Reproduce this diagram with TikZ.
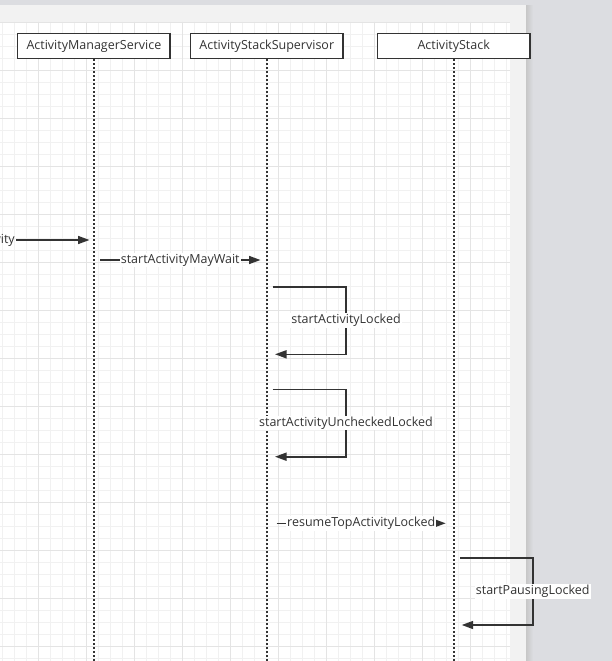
\documentclass[tikz,border=0pt]{standalone}
\usepackage{fontspec}
\setmainfont{Open Sans}
\usetikzlibrary{arrows.meta}
\definecolor{ink}{HTML}{333333}
\definecolor{deskgrey}{HTML}{DCDDE1}
\definecolor{pagegrey}{HTML}{F2F2F2}
\definecolor{gridminor}{HTML}{F1F1F1}
\definecolor{gridmajor}{HTML}{E4E4E4}
\tikzset{
  lifebox/.style={draw=ink, line width=1.5pt, fill=white, minimum width=152.6pt,
    minimum height=25pt, inner sep=0pt, text=ink, font=\fontsize{12.5}{14}\selectfont},
  lifeline/.style={draw=ink, line width=2pt, dash pattern=on 2pt off 2pt},
  msg/.style={draw=ink, line width=1.6pt, -{Triangle[length=11.5pt,width=8pt]}},
  lbl/.style={fill=white, inner sep=1pt, text=ink, font=\fontsize{12.5}{14}\selectfont},
  minorline/.style={draw=gridminor, line width=1pt},
  majorline/.style={draw=gridmajor, line width=1pt}
}
\begin{document}
\begin{tikzpicture}[x=1pt,y=-1pt]
\useasboundingbox (0,0) rectangle (612,661);
% desk background
\fill[deskgrey] (0,0) rectangle (612,661);
% page shadow
\shade[left color=black!22, right color=deskgrey] (526,5.5) rectangle (533,661);
% page
\fill[pagegrey] (0,5.5) rectangle (526,661);
\fill[white] (0,22) rectangle (510,661);
% grid
\begin{scope}
\clip (0,22) rectangle (510,661);
\foreach \xx in {2.5,14.5,...,512} \draw[minorline] (\xx,22) -- (\xx,661);
\foreach \yy in {22.5,34.5,...,662} \draw[minorline] (0,\yy) -- (510,\yy);
\foreach \xx in {38.5,86.5,...,512} \draw[majorline] (\xx,22) -- (\xx,661);
\foreach \yy in {22.5,70.5,...,662} \draw[majorline] (0,\yy) -- (510,\yy);
\end{scope}
% lifelines
\node[lifebox] (ams) at (93.9,46) {ActivityManagerService};
\node[lifebox] (ass) at (266.8,46) {ActivityStackSupervisor};
\node[lifebox] (as) at (453.7,46) {ActivityStack};
\coordinate (amsend) at (93.9,661);
\coordinate (assend) at (266.8,661);
\coordinate (asend) at (453.7,661);
\draw[lifeline] (ams.south) -- (amsend);
\draw[lifeline] (ass.south) -- (assend);
\draw[lifeline] (as.south) -- (asend);
% message 1 (label partly off the page)
\node[lbl, fill=none, anchor=east] (m1l) at (16,240) {startActivity};
\coordinate (m1e) at (89.5,240);
\draw[msg] (m1l.east) -- (m1e);
% message 2
\coordinate (m2s) at (100,260);
\coordinate (m2e) at (260.5,260);
\draw[msg] (m2s) -- node[lbl] (m2l) {startActivityMayWait} (m2e);
% message 3 self loop
\coordinate (m3a) at (272.7,286.7);
\coordinate (m3b) at (346,286.7);
\coordinate (m3c) at (346,354.3);
\coordinate (m3d) at (275,354.3);
\draw[msg] (m3a) -- (m3b) -- node[lbl] (m3l) {startActivityLocked} (m3c) -- (m3d);
% message 4 self loop
\coordinate (m4a) at (272.7,389.3);
\coordinate (m4b) at (346,389.3);
\coordinate (m4c) at (346,456.7);
\coordinate (m4d) at (275,456.7);
\draw[msg] (m4a) -- (m4b) -- node[lbl] (m4l) {startActivityUncheckedLocked} (m4c) -- (m4d);
% message 5
\coordinate (m5s) at (276.7,523.3);
\coordinate (m5e) at (445.7,523.3);
\draw[msg] (m5s) -- node[lbl] (m5l) {resumeTopActivityLocked} (m5e);
% message 6 self loop
\coordinate (m6a) at (460,557.7);
\coordinate (m6b) at (532.7,557.7);
\coordinate (m6c) at (532.7,625);
\coordinate (m6d) at (461.7,625);
\draw[msg] (m6a) -- (m6b) -- node[lbl] (m6l) {startPausingLocked} (m6c) -- (m6d);
\end{tikzpicture}
\end{document}
